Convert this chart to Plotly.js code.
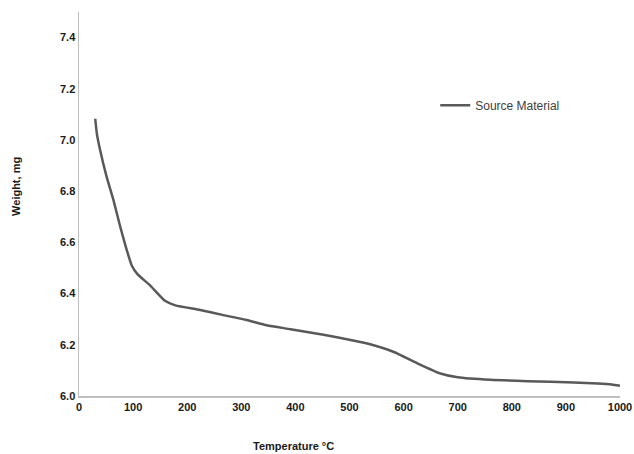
<!DOCTYPE html>
<html>
<head>
<meta charset="utf-8">
<script src="https://cdn.plot.ly/plotly-3.0.1.min.js"></script>
<style>html,body{margin:0;padding:0;background:#fff;}#chart{width:634px;height:454px;}</style>
</head>
<body>
<div id="chart"></div>
<script>
const seriesName = "Source Material";
const temperature = [30, 33, 39, 51, 63.5, 76, 88, 97.5, 108, 130, 159, 178, 224, 267, 310, 347, 391, 452, 502, 533, 582, 625, 668, 700, 761, 829, 915, 959, 985, 1000];
const weight = [7.083, 7.025, 6.961, 6.857, 6.767, 6.663, 6.572, 6.510, 6.476, 6.435, 6.372, 6.354, 6.336, 6.316, 6.297, 6.276, 6.261, 6.239, 6.219, 6.205, 6.172, 6.128, 6.088, 6.073, 6.063, 6.058, 6.053, 6.049, 6.045, 6.040];
const xTicks = [0, 100, 200, 300, 400, 500, 600, 700, 800, 900, 1000];
const yTicks = [6.0, 6.2, 6.4, 6.6, 6.8, 7.0, 7.2, 7.4];
const xTitle = "Temperature °C";
const yTitle = "Weight, mg";

const fam = "Liberation Sans, Arial, sans-serif";
const tickFont = {family: fam, size: 11, color: "#1a1a1a", weight: "bold"};
const titleFont = {family: fam, size: 11, color: "#1a1a1a", weight: "bold"};

const trace = {
  x: temperature, y: weight, type: "scatter", mode: "lines", name: seriesName,
  line: {color: "#595959", width: 2.5, shape: "spline", smoothing: 0.5}
};

const layout = {
  width: 634, height: 454,
  margin: {l: 79, r: 14, t: 11.5, b: 57.5},
  paper_bgcolor: "#fff", plot_bgcolor: "#fff",
  showlegend: true,
  legend: {x: 0.6585, y: 0.757, xanchor: "left", yanchor: "middle", bgcolor: "rgba(0,0,0,0)",
           font: {family: fam, size: 12, color: "#404040"}},
  xaxis: {
    range: [0, 1000], tickvals: xTicks, ticktext: xTicks.map(String),
    showline: true, linecolor: "#bfbfbf", linewidth: 1.5, showgrid: false, zeroline: false,
    ticks: "", tickfont: tickFont, fixedrange: true
  },
  yaxis: {
    range: [6.0, 7.5], tickvals: yTicks, ticktext: yTicks.map(v => v.toFixed(1)),
    showline: true, linecolor: "#bfbfbf", linewidth: 1.5, showgrid: false, zeroline: false,
    ticks: "", tickfont: tickFont, fixedrange: true
  },
  annotations: [
    {text: xTitle, xref: "paper", yref: "paper", x: 0.397, y: -0.131, xanchor: "center", yanchor: "middle",
     showarrow: false, font: titleFont},
    {text: yTitle, xref: "paper", yref: "paper", x: -0.1165, y: 0.547, xanchor: "center", yanchor: "middle",
     textangle: -90, showarrow: false, font: titleFont}
  ]
};

Plotly.newPlot("chart", [trace], layout, {displayModeBar: false, staticPlot: true});
</script>
</body>
</html>
